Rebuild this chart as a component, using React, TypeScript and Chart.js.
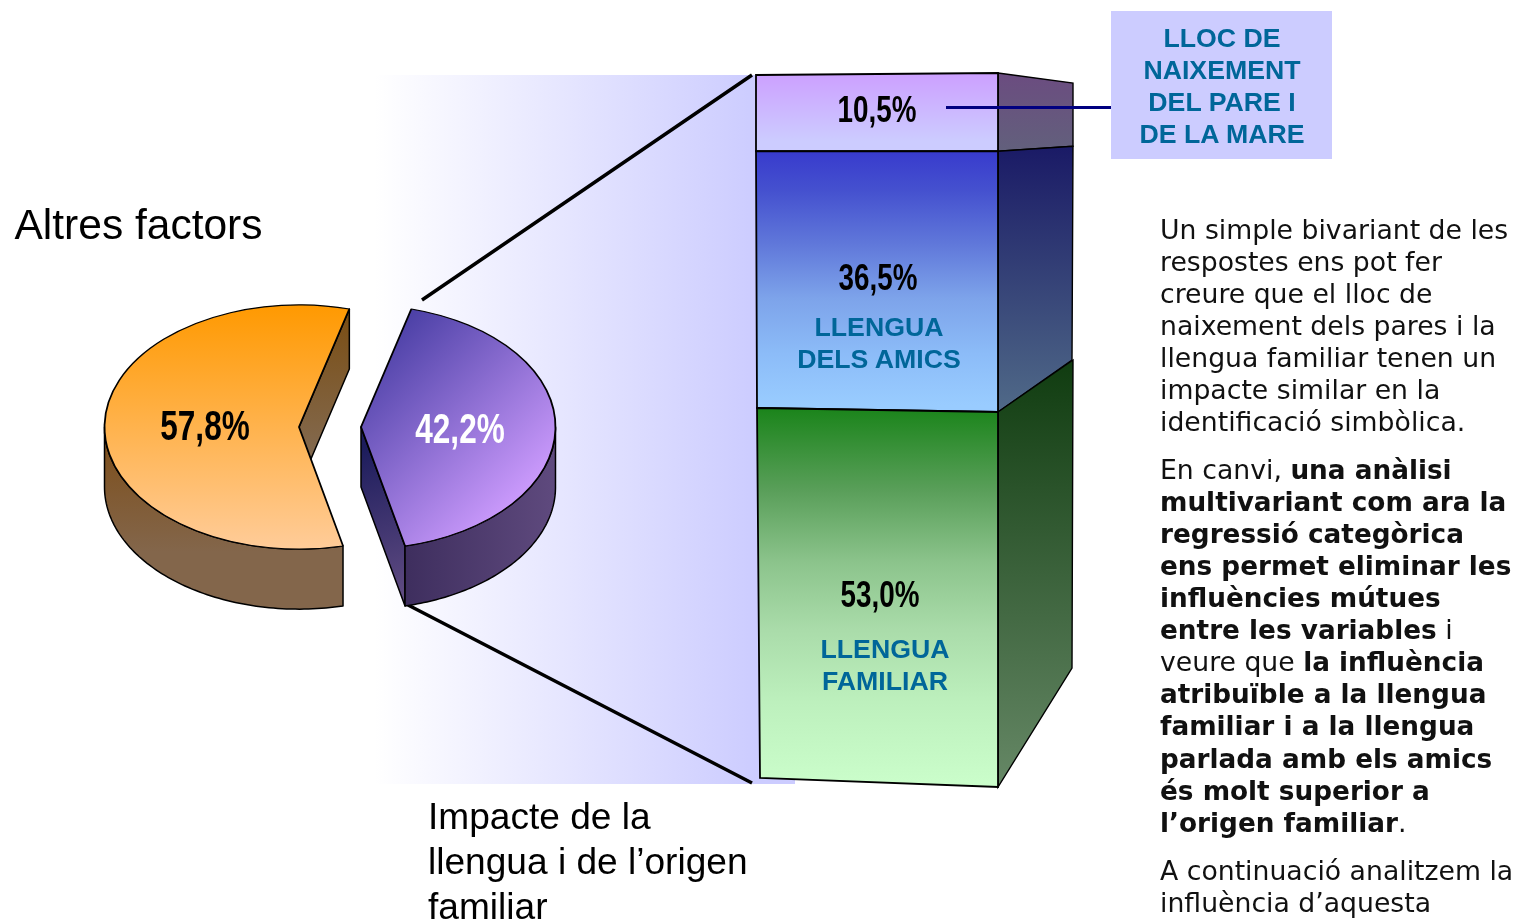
import React, { useEffect, useRef } from "react";
import { Chart, registerables } from "chart.js";

Chart.register(...registerables);

// ---------- data ----------
const pieLabels = ["Impacte de la llengua i de l'origen familiar", "Altres factors"];
const pieValues = [42.2, 57.8];
const barLabels = ["Llengua familiar", "Llengua dels amics", "Lloc de naixement del pare i de la mare"];
const barValues = [53.0, 36.5, 10.5];
const barFronts: [number, string][][] = [
  [[0, "#118011"], [0.24, "#5a9f5a"], [0.42, "#8cc48c"], [0.59, "#aadcaa"], [0.77, "#bdf0bd"], [1, "#ccffcc"]],
  [[0, "#3333cc"], [0.19, "#4551cf"], [0.38, "#6078da"], [0.57, "#7da3ea"], [0.77, "#8cbcf8"], [0.95, "#99ccff"], [1, "#99ccff"]],
  [[0, "#cc99ff"], [1, "#ccccff"]],
];
const barSides = [["#103c10", "#668866"], ["#1a1a66", "#506a88"], ["#6b4c80", "#62607c"]];

const para1 = ["Un simple bivariant de les", "respostes ens pot fer", "creure que el lloc de", "naixement dels pares i la", "llengua familiar tenen un", "impacte similar en la", "identificació simbòlica."];
const para2: [string, boolean][][] = [
  [["En canvi, ", false], ["una anàlisi", true]],
  [["multivariant com ara la", true]],
  [["regressió categòrica", true]],
  [["ens permet eliminar les", true]],
  [["influències mútues", true]],
  [["entre les variables", true], [" i", false]],
  [["veure que ", false], ["la influència", true]],
  [["atribuïble a la llengua", true]],
  [["familiar i a la llengua", true]],
  [["parlada amb els amics", true]],
  [["és molt superior a", true]],
  [["l’origen familiar", true], [".", false]],
];
const para3 = ["A continuació analitzem la", "influència d’aquesta"];
const impactLines = ["Impacte de la", "llengua i de l’origen", "familiar"];
const boxLines = ["LLOC DE", "NAIXEMENT", "DEL PARE I", "DE LA MARE"];

const fmt = (v: number) => v.toFixed(1).replace(".", ",") + "%";
const cum = barValues.reduce<number[]>((a, v) => [...a, a[a.length - 1] + v], [0]);

// ---------- geometry styling ----------
const K = 0.628;
const DEPTH = 60;
const EXPLODE = [31, -31];
// corner nudges [TL, TR, BR, BL] of the slightly perspective front face
const nudges = [
  [[0, 0.7], [0, 4.7], [0, 5], [3, -4]],
  [[-1, 2], [0, 2], [0, 4.7], [0, 0.7]],
  [[-1, 0], [0, -2], [0, 2], [-1, 2]],
];
// right-hand edge of the side face, offset from the front right corner
const sideDX = 75;
const sideTop = [[-52, 0], [-5, 0], [10, 0]];
const sideBot = [[-119, -1], [-52, -1], [-5, 0]];

function linear(ctx: CanvasRenderingContext2D, x0: number, y0: number, x1: number, y1: number, stops: [number, string][]) {
  const g = ctx.createLinearGradient(x0, y0, x1, y1);
  stops.forEach(([o, c]) => g.addColorStop(o, c));
  return g;
}

function poly(ctx: CanvasRenderingContext2D, pts: number[][]) {
  ctx.beginPath();
  pts.forEach(([x, y], i) => (i ? ctx.lineTo(x, y) : ctx.moveTo(x, y)));
  ctx.closePath();
}

const barPlugin = {
  id: "prism",
  beforeDatasetsDraw(chart: any) {
    const { ctx, chartArea } = chart;
    ctx.save();
    ctx.fillStyle = linear(ctx, 375, 0, 756, 0, [[0, "#ffffff"], [1, "#ccccff"]]);
    ctx.fillRect(375, chartArea.top, 420, 709);
    ctx.restore();
  },
  beforeDatasetDraw(chart: any, args: any) {
    const { ctx } = chart;
    const i = args.index;
    const bar = chart.getDatasetMeta(i).data[0];
    const left = bar.x - bar.width / 2;
    const right = bar.x + bar.width / 2;
    const top = bar.y;
    const bottom = bar.base;
    const n = nudges[i];
    const pts = [
      [left + n[0][0], top + n[0][1]],
      [right + n[1][0], top + n[1][1]],
      [right + n[2][0], bottom + n[2][1]],
      [left + n[3][0], bottom + n[3][1]],
    ];
    // side face
    const side = [
      pts[1],
      [pts[1][0] + sideDX + sideTop[i][1], pts[1][1] + sideTop[i][0]],
      [pts[2][0] + sideDX + sideBot[i][1], pts[2][1] + sideBot[i][0]],
      pts[2],
    ];
    ctx.save();
    ctx.fillStyle = linear(ctx, 0, Math.min(side[1][1], side[0][1]), 0, side[3][1], [[0, barSides[i][0]], [1, barSides[i][1]]]);
    poly(ctx, side);
    ctx.fill();
    ctx.strokeStyle = "#000";
    ctx.lineWidth = 1.4;
    ctx.stroke();
    ctx.restore();
    // front face: the library's bar, trimmed to the trapezoid
    ctx.save();
    poly(ctx, pts);
    ctx.clip();
    const cx = (left + right) / 2;
    const cy = (top + bottom) / 2;
    ctx.translate(cx, cy);
    ctx.scale(1.04, 1 + 24 / (bottom - top));
    ctx.translate(-cx, -cy);
    bar.draw(ctx);
    ctx.restore();
    ctx.save();
    ctx.strokeStyle = "#000";
    ctx.lineWidth = 1.8;
    poly(ctx, pts);
    ctx.stroke();
    ctx.restore();
    return false;
  },
  afterDatasetsDraw(chart: any) {
    const { ctx } = chart;
    ctx.save();
    ctx.strokeStyle = "#000";
    ctx.lineWidth = 3.5;
    ctx.beginPath();
    ctx.moveTo(422, 300);
    ctx.lineTo(752, 75);
    ctx.moveTo(408, 605);
    ctx.lineTo(752, 783);
    ctx.stroke();
    ctx.strokeStyle = "#000080";
    ctx.lineWidth = 3;
    ctx.beginPath();
    ctx.moveTo(946, 107.5);
    ctx.lineTo(1112, 107.5);
    ctx.stroke();
    ctx.restore();
  },
};

const pieFaces = [
  { cut: ["#1c1c5c", "#644e84"], outer: ["#3e2e5e", "#5f4a7e"] },
  { cut: ["#7a4d12", "#836a50"], outer: ["#7d4e1a", "#83664b"] },
];

const piePlugin = {
  id: "pie3d",
  beforeDatasetDraw(chart: any) {
    const { ctx } = chart;
    const arcs = chart.getDatasetMeta(0).data;
    arcs.forEach((arc: any, i: number) => {
      const cx = arc.x + EXPLODE[i];
      const cy = arc.y;
      const R = arc.outerRadius;
      const pt = (a: number, d = 0) => [cx + R * Math.cos(a), cy + K * R * Math.sin(a) + d];
      const faces = pieFaces[i];
      ctx.save();
      ctx.strokeStyle = "#000";
      ctx.lineWidth = 1.5;
      ctx.lineJoin = "round";
      // cut face of the trailing edge
      const e = arc.endAngle;
      poly(ctx, [[cx, cy], pt(e), pt(e, DEPTH), [cx, cy + DEPTH]]);
      const endP = pt(e);
      ctx.fillStyle = i === 0
        ? linear(ctx, cx, cy + 20, endP[0], endP[1] + DEPTH, [[0, faces.cut[0]], [1, faces.cut[1]]])
        : linear(ctx, 0, endP[1], 0, cy + 30, [[0, faces.cut[0]], [1, faces.cut[1]]]);
      ctx.fill();
      ctx.stroke();
      // outer wall
      const a0 = Math.max(arc.startAngle, 0);
      const a1 = Math.min(arc.endAngle, Math.PI);
      const top: number[][] = [];
      const bot: number[][] = [];
      for (let s = 0; s <= 80; s++) {
        const a = a0 + ((a1 - a0) * s) / 80;
        top.push(pt(a));
        bot.push(pt(a, DEPTH));
      }
      poly(ctx, [...top, ...bot.reverse()]);
      ctx.fillStyle = i === 0
        ? linear(ctx, endP[0], 0, cx + R, 0, [[0, faces.outer[0]], [1, faces.outer[1]]])
        : linear(ctx, 0, cy + 10, 0, cy + 125, [[0, faces.outer[0]], [1, faces.outer[1]]]);
      ctx.fill();
      ctx.stroke();
      ctx.restore();
      // top face: the library's arc, exploded and squashed
      ctx.save();
      ctx.translate(EXPLODE[i], 0);
      ctx.translate(arc.x, cy);
      ctx.scale(1, K);
      ctx.translate(-arc.x, -cy);
      arc.draw(ctx);
      ctx.restore();
    });
    return false;
  },
};

const lbl: React.CSSProperties = { position: "absolute", whiteSpace: "pre", margin: 0 };
const ARIAL = '"Liberation Sans", Arial, sans-serif';
const NARROW = '"Liberation Sans Narrow", "Liberation Sans", sans-serif';
const VERD = '"DejaVu Sans", Verdana, sans-serif';

function Pct({ v, x, y, size, color = "#000" }: { v: number; x: number; y: number; size: number; color?: string }) {
  return (
    <div style={{ ...lbl, left: x - 100, top: y - 30, width: 200, height: 60, lineHeight: "60px", textAlign: "center", fontFamily: NARROW, fontWeight: 700, fontSize: size, color, transform: "scale(0.83, 1.1)" }}>
      {fmt(v)}
    </div>
  );
}

function Cap({ s, x, y }: { s: string; x: number; y: number }) {
  return (
    <div style={{ ...lbl, left: x - 150, top: y - 20, width: 300, height: 40, lineHeight: "40px", textAlign: "center", fontFamily: ARIAL, fontWeight: 700, fontSize: 26.7, color: "#006699" }}>
      {s}
    </div>
  );
}

function Line({ y, children }: { y: number; children: React.ReactNode }) {
  return (
    <div style={{ ...lbl, left: 1160, top: y - 16, height: 32, lineHeight: "32px", fontFamily: VERD, fontSize: 26.7, color: "#111" }}>
      {children}
    </div>
  );
}

export default function App() {
  const barRef = useRef<HTMLCanvasElement>(null);
  const pieRef = useRef<HTMLCanvasElement>(null);

  useEffect(() => {
    const bar = new Chart(barRef.current as HTMLCanvasElement, {
      type: "bar",
      data: {
        labels: ["Impacte"],
        datasets: barValues.map((v, i) => ({
          label: barLabels[i],
          data: [v],
          borderWidth: 0,
          barPercentage: 1,
          categoryPercentage: 1,
          backgroundColor: (c: any) => {
            const y = c.chart.scales.y;
            const y0 = y.getPixelForValue(cum[i + 1]);
            const y1 = y.getPixelForValue(cum[i]);
            if (!Number.isFinite(y0) || !Number.isFinite(y1)) return barFronts[i][0][1];
            return linear(c.chart.ctx, 0, y0, 0, y1 - (i === 2 ? 15 : 0), barFronts[i]);
          },
        })),
      },
      options: {
        responsive: false,
        animation: false,
        events: [],
        layout: { padding: { left: 757, right: 1517 - 998, top: 75, bottom: 920 - 782 } },
        plugins: { legend: { display: false }, tooltip: { enabled: false } },
        scales: {
          x: { stacked: true, display: false },
          y: { stacked: true, display: false, min: 0, max: 100 },
        },
      },
      plugins: [barPlugin],
    } as any);

    const pie = new Chart(pieRef.current as HTMLCanvasElement, {
      type: "pie",
      data: {
        labels: pieLabels,
        datasets: [
          {
            data: pieValues,
            borderColor: "#000",
            borderWidth: 1.8,
            backgroundColor: (c: any) => {
              const g = c.chart.ctx;
              return c.dataIndex === 0
                ? linear(g, 380, 236, 591, 369, [[0, "#4a3fa5"], [1, "#c898fa"]])
                : linear(g, 0, 231, 0, 621, [[0, "#ff9900"], [1, "#ffcc99"]]);
            },
          },
        ],
      },
      options: {
        responsive: false,
        animation: false,
        events: [],
        rotation: 15,
        radius: 194.5,
        layout: { padding: { left: 0, top: 0, right: 1517 - 660, bottom: 920 - 854 } },
        plugins: { legend: { display: false }, tooltip: { enabled: false } },
      },
      plugins: [piePlugin],
    } as any);

    return () => {
      bar.destroy();
      pie.destroy();
    };
  }, []);

  return (
    <div style={{ position: "fixed", left: 0, top: 0, width: 1517, height: 920, overflow: "hidden", background: "#fff" }}>
      <canvas ref={barRef} width={1517} height={920} style={{ position: "absolute", left: 0, top: 0, width: 1517, height: 920 }} />
      <canvas ref={pieRef} width={1517} height={920} style={{ position: "absolute", left: 0, top: 0, width: 1517, height: 920 }} />

      <div style={{ position: "absolute", left: 1111, top: 11, width: 221, height: 148, background: "#ccccff" }} />
      {boxLines.map((s, i) => <Cap key={s} s={s} x={1222} y={38 + i * 32} />)}

      <Pct v={pieValues[1]} x={205} y={426} size={38} />
      <Pct v={pieValues[0]} x={460} y={429} size={38} color="#fff" />
      <Pct v={barValues[2]} x={877} y={110} size={33.5} />
      <Pct v={barValues[1]} x={878} y={278} size={33.5} />
      <Pct v={barValues[0]} x={880} y={595} size={33.5} />

      <Cap s="LLENGUA" x={879} y={327} />
      <Cap s="DELS AMICS" x={879} y={359} />
      <Cap s="LLENGUA" x={885} y={649} />
      <Cap s="FAMILIAR" x={885} y={681} />

      <div style={{ ...lbl, left: 14.5, top: 200, height: 50, lineHeight: "50px", fontFamily: ARIAL, fontSize: 42.5, color: "#000" }}>Altres factors</div>
      {impactLines.map((s, i) => (
        <div key={s} style={{ ...lbl, left: 428, top: 794 + i * 45, height: 45, lineHeight: "45px", fontFamily: ARIAL, fontSize: 37.1, color: "#000" }}>{s}</div>
      ))}

      {para1.map((s, i) => <Line key={s} y={230 + i * 32}>{s}</Line>)}
      {para2.map((segs, i) => (
        <Line key={i} y={470 + i * 32 + (i >= 9 ? 1 : 0)}>
          {segs.map(([t, b], j) => <span key={j} style={{ fontWeight: b ? 700 : 400, fontSize: b ? 26.3 : 26.7 }}>{t}</span>)}
        </Line>
      ))}
      {para3.map((s, i) => <Line key={s} y={871 + i * 32}>{s}</Line>)}
    </div>
  );
}
